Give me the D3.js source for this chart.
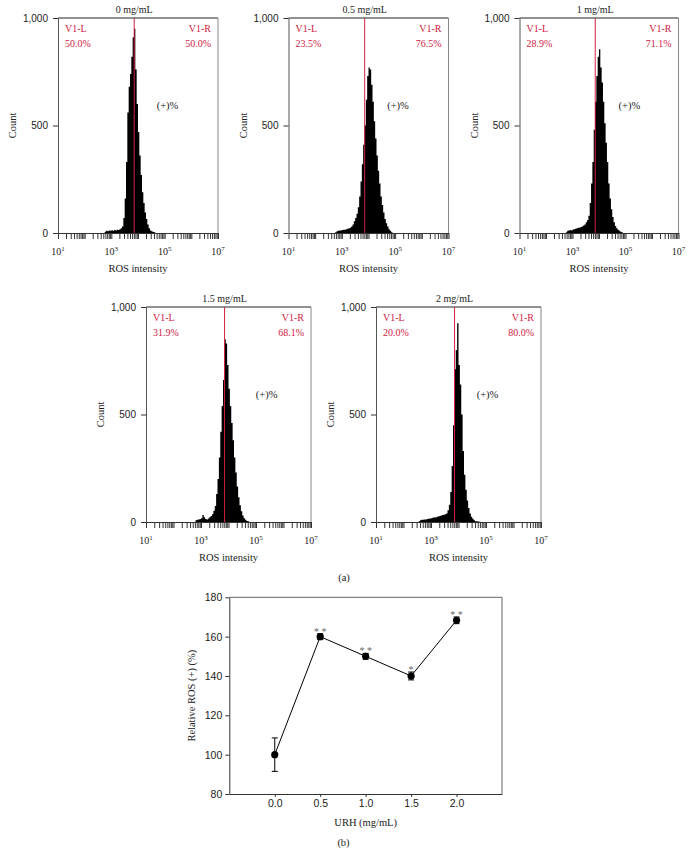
<!DOCTYPE html>
<html>
<head>
<meta charset="utf-8">
<script src="https://cdn.jsdelivr.net/npm/d3@7"></script>
<style>
  body { margin: 0; background: #fff; }
  svg { display: block; font-family: "Liberation Serif", "DejaVu Serif", serif; }
</style>
</head>
<body>
<svg id="fig" width="692" height="865"></svg>
<script>
// histogram channels (log10 of ROS intensity, left edge of each bin)
const channelLog = [2.50, 2.55, 2.60, 2.65, 2.70, 2.75, 2.80, 2.85, 2.90, 2.95,
  3.00, 3.05, 3.10, 3.15, 3.20, 3.25, 3.30, 3.35, 3.40, 3.45,
  3.50, 3.55, 3.60, 3.65, 3.70, 3.75, 3.80, 3.85, 3.90, 3.95,
  4.00, 4.05, 4.10, 4.15, 4.20, 4.25, 4.30, 4.35, 4.40, 4.45,
  4.50, 4.55, 4.60, 4.65, 4.70, 4.75, 4.80, 4.85, 4.90, 4.95];

const counts00 = [0, 0, 0, 0, 0, 6, 10, 8, 12, 10,
  13, 11, 14, 12, 15, 14, 18, 22, 30, 70,
  160, 330, 560, 680, 740, 820, 910, 950, 760, 600,
  470, 360, 270, 190, 140, 95, 65, 40, 22, 12,
  8, 5, 3, 0, 0, 0, 0, 0, 0, 0];
const counts05 = [0, 0, 0, 0, 0, 3, 8, 10, 12, 12,
  14, 15, 15, 18, 20, 22, 25, 30, 40, 55,
  70, 90, 120, 170, 240, 320, 410, 500, 620, 730,
  770, 760, 690, 610, 520, 440, 360, 290, 230, 170,
  130, 95, 65, 45, 30, 18, 10, 4, 0, 0];
const counts10 = [0, 0, 0, 0, 0, 4, 10, 12, 14, 12,
  16, 18, 20, 22, 24, 25, 28, 30, 35, 40,
  50, 60, 80, 140, 230, 330, 480, 610, 730, 820,
  855, 770, 700, 610, 510, 420, 330, 230, 160, 110,
  75, 50, 32, 22, 15, 10, 6, 3, 0, 0];
const counts15 = [0, 0, 0, 0, 0, 0, 8, 10, 12, 14,
  18, 32, 22, 14, 12, 16, 22, 28, 36, 52,
  75, 130, 200, 300, 420, 540, 660, 850, 830, 730,
  620, 540, 460, 380, 300, 230, 165, 115, 78, 50,
  30, 18, 10, 5, 3, 0, 0, 0, 0, 0];
const counts20 = [0, 4, 8, 10, 11, 12, 12, 14, 15, 16,
  17, 20, 22, 21, 24, 26, 28, 30, 32, 34,
  36, 40, 55, 80, 140, 260, 450, 710, 800, 925,
  730, 640, 500, 330, 220, 150, 100, 65, 40, 25,
  15, 8, 4, 3, 2, 1, 0, 0, 0, 0];

const doseTitles = ['0 mg/mL', '0.5 mg/mL', '1 mg/mL', '1.5 mg/mL', '2 mg/mL'];
const pctLeft = [50.0, 23.5, 28.9, 31.9, 20.0];
const pctRight = [50.0, 76.5, 71.1, 68.1, 80.0];
const histCounts = [counts00, counts05, counts10, counts15, counts20];
const gateValue = 7200;
const countTicks = [0, 500, 1000];
const decadeTicks = [1, 3, 5, 7];

// panel (b)
const urhDoses = [0.0, 0.5, 1.0, 1.5, 2.0];
const relRos = [100, 160, 150, 140, 168.3];
const relRosErr = [8.5, 1.5, 1.5, 2.0, 1.7];
const signif = ['', '* *', '* *', '*', '* *'];
const rosTicks = [80, 100, 120, 140, 160, 180];

// layout of the five histogram panels
const panels = [
  { left: 58, top: 18, w: 160, h: 215, plusLog: 4.7 },
  { left: 288.5, top: 18, w: 160, h: 215, plusLog: 4.7 },
  { left: 519.5, top: 18, w: 159, h: 215, plusLog: 4.74 },
  { left: 146, top: 307, w: 165, h: 215, plusLog: 4.99 },
  { left: 376, top: 307, w: 165, h: 215, plusLog: 4.66 },
];

const red = '#d2203f';
const svg = d3.select('#fig');
svg.append('rect').attr('width', 692).attr('height', 865).attr('fill', '#fff');

panels.forEach((p, i) => {
  const g = svg.append('g');
  const x = d3.scaleLog().domain([1e1, 1e7]).range([p.left, p.left + p.w]);
  const y = d3.scaleLinear().domain([0, 1000]).range([p.top + p.h, p.top]);
  const bottom = p.top + p.h;

  const pts = channelLog.map((c, k) => ({ v: Math.pow(10, c), n: histCounts[i][k] }));
  const area = d3.area()
    .curve(d3.curveStepAfter)
    .x(d => x(d.v))
    .y0(bottom)
    .y1(d => y(d.n));
  g.append('path').datum(pts).attr('d', area).attr('fill', '#000');

  // frame: top and right
  g.append('line').attr('x1', p.left).attr('x2', p.left + p.w)
    .attr('y1', p.top).attr('y2', p.top).attr('stroke', '#222');
  g.append('line').attr('x1', p.left + p.w).attr('x2', p.left + p.w)
    .attr('y1', p.top).attr('y2', bottom).attr('stroke', '#888');

  // x axis with log minor ticks
  const xAxis = g.append('g')
    .attr('transform', `translate(0, ${bottom})`)
    .call(d3.axisBottom(x).tickValues(x.ticks()).tickSize(6).tickSizeOuter(0).tickFormat(''));
  xAxis.selectAll('line').attr('stroke', '#333');
  xAxis.select('.domain').attr('stroke', '#333');

  decadeTicks.forEach(e => {
    const t = g.append('text')
      .attr('x', x(Math.pow(10, e)))
      .attr('y', bottom + 22)
      .attr('text-anchor', 'middle')
      .attr('font-size', 10)
      .attr('fill', '#222');
    t.append('tspan').text('10');
    t.append('tspan').attr('dy', -4).attr('font-size', 7).text(e);
  });

  g.append('text')
    .attr('x', p.left + p.w / 2)
    .attr('y', bottom + 39)
    .attr('text-anchor', 'middle')
    .attr('font-size', 10.5)
    .attr('fill', '#222')
    .text('ROS intensity');

  // y axis
  const yAxis = g.append('g')
    .attr('transform', `translate(${p.left}, 0)`)
    .call(d3.axisLeft(y).tickValues(countTicks).tickSize(5).tickSizeOuter(0)
      .tickPadding(5).tickFormat(d3.format(',')));
  yAxis.selectAll('text').attr('font-size', 10).attr('font-family', null).attr('fill', '#222');
  yAxis.selectAll('line').attr('stroke', '#333');
  yAxis.select('.domain').attr('stroke', '#555');

  g.append('text')
    .attr('transform', `translate(${p.left - 42}, ${p.top + p.h / 2}) rotate(-90)`)
    .attr('text-anchor', 'middle')
    .attr('font-size', 10.5)
    .attr('fill', '#222')
    .text('Count');

  // gate
  g.append('line')
    .attr('x1', x(gateValue)).attr('x2', x(gateValue))
    .attr('y1', p.top).attr('y2', bottom)
    .attr('stroke', red).attr('stroke-width', 1);

  g.append('text')
    .attr('x', x(gateValue))
    .attr('y', p.top - 5)
    .attr('text-anchor', 'middle')
    .attr('font-size', 10)
    .attr('fill', '#222')
    .text(doseTitles[i]);

  const lab = (txt, xx, yy, anchor) => g.append('text')
    .attr('x', xx).attr('y', yy)
    .attr('text-anchor', anchor)
    .attr('font-size', 10)
    .attr('fill', red)
    .text(txt);
  lab('V1-L', p.left + 7, p.top + 14, 'start');
  lab(pctLeft[i].toFixed(1) + '%', p.left + 7, p.top + 28.5, 'start');
  lab('V1-R', p.left + p.w - 7, p.top + 14, 'end');
  lab(pctRight[i].toFixed(1) + '%', p.left + p.w - 7, p.top + 28.5, 'end');

  g.append('text')
    .attr('x', x(Math.pow(10, p.plusLog)))
    .attr('y', p.top + 91)
    .attr('font-size', 10.5)
    .attr('fill', '#222')
    .text('(+)%');
});

svg.append('text')
  .attr('x', 344).attr('y', 580.5)
  .attr('text-anchor', 'middle')
  .attr('font-size', 10.5)
  .attr('fill', '#222')
  .text('(a)');

// ---- panel (b): relative ROS line chart
const bx = d3.scaleLinear().domain([-0.5, 2.5]).range([229.3, 502]);
const by = d3.scaleLinear().domain([80, 180]).range([794, 597.3]);
const gb = svg.append('g');

gb.append('line').attr('x1', bx(-0.5)).attr('x2', bx(2.5))
  .attr('y1', by(180)).attr('y2', by(180)).attr('stroke', '#666');
gb.append('line').attr('x1', bx(2.5)).attr('x2', bx(2.5))
  .attr('y1', by(180)).attr('y2', by(80)).attr('stroke', '#666');

const bxAxis = gb.append('g')
  .attr('transform', `translate(0, ${by(80)})`)
  .call(d3.axisBottom(bx).tickValues(urhDoses).tickSize(3).tickSizeOuter(0)
    .tickPadding(3).tickFormat(d3.format('.1f')));
const byAxis = gb.append('g')
  .attr('transform', `translate(${bx(-0.5)}, 0)`)
  .call(d3.axisLeft(by).tickValues(rosTicks).tickSize(4).tickSizeOuter(0).tickPadding(3));
[bxAxis, byAxis].forEach(a => {
  a.selectAll('text').attr('font-size', 10.5).attr('font-family', null).attr('fill', '#222');
  a.selectAll('line').attr('stroke', '#333');
  a.select('.domain').attr('stroke', '#333');
});

const pts = urhDoses.map((d, i) => ({ d, v: relRos[i], e: relRosErr[i], s: signif[i] }));

gb.append('path').datum(pts)
  .attr('d', d3.line().x(p => bx(p.d)).y(p => by(p.v)))
  .attr('fill', 'none').attr('stroke', '#000').attr('stroke-width', 1);

const eb = gb.selectAll('.err').data(pts).enter().append('g').attr('class', 'err');
eb.append('line')
  .attr('x1', p => bx(p.d)).attr('x2', p => bx(p.d))
  .attr('y1', p => by(p.v - p.e)).attr('y2', p => by(p.v + p.e))
  .attr('stroke', '#000');
eb.append('line')
  .attr('x1', p => bx(p.d) - 3).attr('x2', p => bx(p.d) + 3)
  .attr('y1', p => by(p.v + p.e)).attr('y2', p => by(p.v + p.e))
  .attr('stroke', '#000');
eb.append('line')
  .attr('x1', p => bx(p.d) - 3).attr('x2', p => bx(p.d) + 3)
  .attr('y1', p => by(p.v - p.e)).attr('y2', p => by(p.v - p.e))
  .attr('stroke', '#000');

gb.selectAll('.dot').data(pts).enter().append('circle')
  .attr('cx', p => bx(p.d)).attr('cy', p => by(p.v))
  .attr('r', 3.6).attr('fill', '#000');

gb.selectAll('.sig').data(pts).enter().append('text')
  .attr('x', p => bx(p.d)).attr('y', p => by(p.v + p.e) + 1)
  .attr('text-anchor', 'middle')
  .attr('font-size', 10)
  .attr('fill', '#666')
  .text(p => p.s);

gb.append('text')
  .attr('x', bx(1.0)).attr('y', 826)
  .attr('text-anchor', 'middle')
  .attr('font-size', 10.5)
  .attr('fill', '#222')
  .text('URH (mg/mL)');

gb.append('text')
  .attr('transform', `translate(195, ${by(130)}) rotate(-90)`)
  .attr('text-anchor', 'middle')
  .attr('font-size', 10.5)
  .attr('fill', '#222')
  .text('Relative ROS (+) (%)');

svg.append('text')
  .attr('x', 343.5).attr('y', 845.5)
  .attr('text-anchor', 'middle')
  .attr('font-size', 10.5)
  .attr('fill', '#222')
  .text('(b)');
</script>
</body>
</html>
